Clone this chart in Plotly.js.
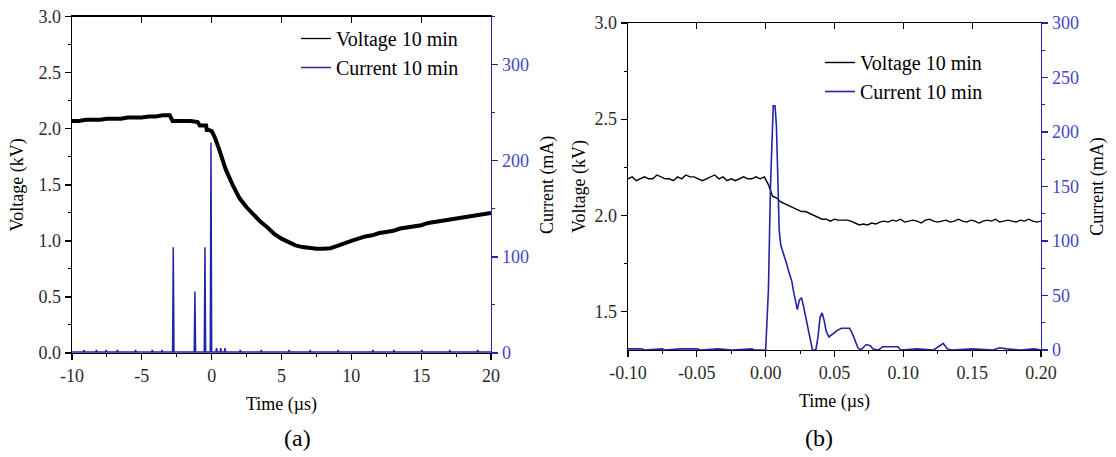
<!DOCTYPE html>
<html><head><meta charset="utf-8">
<script src="https://cdn.plot.ly/plotly-3.0.1.min.js"></script>
<style>html,body{margin:0;padding:0;background:#fff}#chart{width:1116px;height:457px}</style>
</head><body><div id="chart"></div>
<script>
// ---------- Panel (a): 10 min, wide window ----------
const voltA_t = [-10,-9.5,-9,-8.5,-8,-7.5,-7,-6.5,-6,-5.5,-5,-4.5,-4,-3.5,-3.0,-2.8,-2.5,-2,-1.5,-1.0,-0.85,-0.6,-0.4,-0.35,-0.2,0,0.2,0.5,1.0,1.5,2.0,2.5,3.0,3.5,4.0,4.5,5.0,5.5,6.0,6.5,7.0,7.5,8.0,8.5,9,9.5,10,10.5,11,11.5,12,12.5,13,13.5,14,14.5,15,15.5,16,16.5,17,17.5,18,18.5,19,19.5,20];
const voltA_v = [2.07,2.07,2.08,2.08,2.08,2.09,2.09,2.09,2.10,2.10,2.10,2.11,2.11,2.12,2.12,2.07,2.07,2.07,2.07,2.06,2.03,2.03,2.03,1.99,1.99,1.98,1.93,1.83,1.64,1.50,1.38,1.30,1.23,1.17,1.12,1.06,1.02,0.99,0.96,0.945,0.935,0.93,0.93,0.935,0.955,0.98,1.00,1.02,1.04,1.05,1.07,1.08,1.09,1.11,1.12,1.13,1.14,1.16,1.17,1.18,1.19,1.20,1.21,1.22,1.23,1.24,1.25];
const curA_t = [-10,-9.2,-9.15,-9.1,-8.3,-8.25,-8.2,-7.6,-7.55,-7.5,-6.8,-6.75,-6.7,-5.5,-5.45,-5.4,-4.3,-4.25,-4.2,-3.6,-3.55,-3.5,-2.80,-2.75,-2.70,-1.25,-1.20,-1.15,-0.53,-0.48,-0.43,-0.10,-0.05,0.00,0.3,0.35,0.4,0.6,0.65,0.7,0.9,0.95,1.0,1.3,2.0,2.05,2.1,3.5,3.55,3.6,5.5,5.55,5.6,7.0,7.05,7.1,9.0,9.05,9.1,11.5,11.55,11.6,13.0,13.05,13.1,15.0,15.05,15.1,17.0,17.05,17.1,19.0,19.05,19.1,20];
const curA_i = [1,1,3,1,1,3,1,1,3,1,1,3,1,1,3,1,1,3,1,1,3,1,1,110,1,1,64,1,1,110,1,1,219,1,1,5,1,1,5,1,1,5,1,1,1,3,1,1,3,1,1,3,1,1,3,1,1,3,1,1,3,1,1,3,1,1,3,1,1,3,1,1,3,1,1];

// ---------- Panel (b): 10 min, zoom around breakdown ----------
const voltB_t0 = -0.1, voltB_dt = 0.003;
const voltB_v = [2.19,2.20,2.18,2.19,2.20,2.19,2.19,2.21,2.20,2.19,
  2.19,2.18,2.20,2.19,2.21,2.20,2.20,2.19,2.18,2.19,
  2.20,2.21,2.19,2.20,2.18,2.19,2.18,2.19,2.20,2.19,
  2.19,2.20,2.19,2.20,
  2.16,2.10,2.09,2.07,2.06,2.05,2.04,2.03,2.02,2.02,2.01,2.00,1.99,1.98,1.98,1.97,1.98,1.975,1.975,1.975,1.97,1.96,1.95,1.955,1.95,1.96,1.955,1.965,1.97,
  1.965,1.975,1.97,1.98,1.965,1.97,1.975,1.97,1.96,1.975,
  1.98,1.97,1.965,1.97,1.975,1.965,1.97,1.98,1.97,1.965,
  1.975,1.97,1.96,1.97,1.975,1.97,1.98,1.965,1.97,1.975,
  1.97,1.965,1.975,1.97,1.98,1.97,1.965,1.97];
const voltB_t = voltB_v.map((_, k) => voltB_t0 + k * voltB_dt);
const curB_t = [-0.100,-0.090,-0.088,-0.075,-0.073,-0.062,-0.050,-0.047,-0.035,-0.024,-0.010,-0.008,0.000,0.002,0.0035,0.0045,0.0055,0.0068,0.0078,0.0088,0.0098,0.011,0.013,0.015,0.017,0.019,0.0205,0.022,0.023,0.0245,0.026,0.0275,0.029,0.031,0.033,0.034,0.0365,0.038,0.0395,0.041,0.0425,0.044,0.046,0.049,0.052,0.055,0.058,0.061,0.063,0.065,0.067,0.069,0.071,0.073,0.076,0.078,0.082,0.085,0.090,0.096,0.098,0.110,0.122,0.126,0.129,0.132,0.135,0.150,0.165,0.170,0.175,0.185,0.195,0.200];
const curB_i = [1,1,0,1,0,1,1,0,1,0,1,0,0,55,150,195,224,224,206,160,110,96,89,80,71,63,52,42,37,46,48,40,31,20,8,0,0,12,30,34,27,17,12,15,18,20,20,20,15,8,2,0,3,5,4,1,0,3,3,3,0,1,0,3,6,1,0,1,0,2,1,0,1,0];

// ---------- tick labels and legend text ----------
const tickA_vals = [-10, -5, 0, 5, 10, 15, 20];
const tickA_text = ['-10', '-5', '0', '5', '10', '15', '20'];
const tickB_vals = [-0.1, -0.05, 0, 0.05, 0.1, 0.15, 0.2];
const tickB_text = ['-0.10', '-0.05', '0.00', '0.05', '0.10', '0.15', '0.20'];
const legendNames = ['Voltage 10 min', 'Current 10 min'];

const W = 1116, H = 457;
const FONT = 'Liberation Serif, Times New Roman, serif';
const BLUE = '#2424a8';
const BLUE_TXT = '#4646c8';

const traces = [
  // thick noisy band of panel (a) voltage
  {x: voltA_t, y: voltA_v, xaxis: 'x', yaxis: 'y', mode: 'lines', showlegend: false,
   line: {color: '#000', width: 4}},
  // thin line of the same data, used for the legend entry
  {x: voltA_t, y: voltA_v, xaxis: 'x', yaxis: 'y', mode: 'lines', name: legendNames[0], legend: 'legend',
   line: {color: '#000', width: 1.3}},
  {x: curA_t, y: curA_i, xaxis: 'x3', yaxis: 'y2', mode: 'lines', name: legendNames[1], legend: 'legend',
   line: {color: BLUE, width: 1.5}},
  {x: voltB_t, y: voltB_v, xaxis: 'x2', yaxis: 'y3', mode: 'lines', name: legendNames[0], legend: 'legend2',
   line: {color: '#000', width: 1.4}},
  {x: curB_t, y: curB_i, xaxis: 'x4', yaxis: 'y4', mode: 'lines', name: legendNames[1], legend: 'legend2',
   line: {color: BLUE, width: 1.6}}
];

const TICKFONT = {family: FONT, size: 18, color: '#2a2a2a'};
const TITLEFONT = {family: FONT, size: 18, color: '#000'};

function baseAxis(extra) {
  return Object.assign({
    showline: true, linecolor: '#000', linewidth: 1.3, mirror: false,
    zeroline: false, showgrid: false, automargin: false, fixedrange: true,
    ticks: 'outside', ticklen: 6, tickwidth: 1.3, tickcolor: '#000',
    tickfont: TICKFONT
  }, extra);
}
function minorTicks(t0, dt, color, dir) {
  return {tickmode: 'linear', tick0: t0, dtick: dt, ticks: dir || 'outside', ticklen: 3, tickwidth: 1, tickcolor: color || '#000'};
}

const domA = [72 / W, 491 / W];
const domB = [628 / W, 1041 / W];
const ydomA = [1 - 353 / H, 1 - 16.7 / H];
const ydomB = [1 - 350 / H, 1 - 23 / H];

const layout = {
  width: W, height: H,
  margin: {l: 0, r: 0, t: 0, b: 0},
  paper_bgcolor: '#fff', plot_bgcolor: 'rgba(0,0,0,0)',
  font: {family: FONT, color: '#000'},
  showlegend: true,
  xaxis: baseAxis({domain: domA, anchor: 'y', range: [-10, 20], tickmode: 'array', tickvals: tickA_vals, ticktext: tickA_text,
    minor: minorTicks(-10, 2.5),
    title: {text: 'Time (µs)', font: TITLEFONT, standoff: 12}}),
  yaxis: baseAxis({domain: ydomA, anchor: 'x', range: [0, 3], tick0: 0, dtick: 0.5, tickformat: '.1f',
    minor: minorTicks(0, 0.25),
    title: {text: 'Voltage (kV)', font: TITLEFONT, standoff: 10}}),
  yaxis2: baseAxis({overlaying: 'y', side: 'right', anchor: 'x3', range: [0, 350], tick0: 0, dtick: 100,
    linecolor: BLUE, tickcolor: BLUE, tickfont: Object.assign({}, TICKFONT, {color: BLUE_TXT}),
    minor: minorTicks(0, 50, BLUE),
    title: {text: 'Current (mA)', font: TITLEFONT, standoff: 12}}),
  xaxis3: baseAxis({overlaying: 'x', side: 'top', anchor: 'y2', range: [-10, 20], tick0: -10, dtick: 5,
    ticks: 'inside', showticklabels: false}),

  xaxis2: baseAxis({domain: domB, anchor: 'y3', range: [-0.1, 0.2], tickmode: 'array', tickvals: tickB_vals, ticktext: tickB_text,
    minor: minorTicks(0, 0.025),
    title: {text: 'Time (µs)', font: TITLEFONT, standoff: 12}}),
  yaxis3: baseAxis({domain: ydomB, anchor: 'x2', range: [1.3, 3.0], tick0: 0, dtick: 0.5, tickformat: '.1f',
    minor: minorTicks(0, 0.25),
    title: {text: 'Voltage (kV)', font: TITLEFONT, standoff: 4}}),
  yaxis4: baseAxis({overlaying: 'y3', side: 'right', anchor: 'x4', range: [0, 300], tick0: 0, dtick: 50,
    linecolor: BLUE, tickcolor: BLUE, tickfont: Object.assign({}, TICKFONT, {color: BLUE_TXT}),
    minor: minorTicks(0, 25, BLUE),
    title: {text: 'Current (mA)', font: TITLEFONT, standoff: 12}}),
  xaxis4: baseAxis({overlaying: 'x2', side: 'top', anchor: 'y4', range: [-0.1, 0.2], tick0: 0, dtick: 0.05,
    ticks: 'inside', showticklabels: false}),

  legend: {x: 296 / W, y: 1 - 19 / H, xanchor: 'left', yanchor: 'top', bgcolor: 'rgba(0,0,0,0)',
    font: {family: FONT, size: 20, color: '#000'}, tracegroupgap: 0},
  legend2: {x: 820 / W, y: 1 - 43 / H, xanchor: 'left', yanchor: 'top', bgcolor: 'rgba(0,0,0,0)',
    font: {family: FONT, size: 20, color: '#000'}, tracegroupgap: 0},

  annotations: [
    {text: '(a)', xref: 'paper', yref: 'paper', x: (72 + 491) / 2 / W, y: 1 - 438 / H, yanchor: 'middle',
     showarrow: false, font: {family: FONT, size: 24, color: '#000'}},
    {text: '(b)', xref: 'paper', yref: 'paper', x: (628 + 1041) / 2 / W, y: 1 - 438 / H, yanchor: 'middle',
     showarrow: false, font: {family: FONT, size: 24, color: '#000'}}
  ]
};

Plotly.newPlot('chart', traces, layout, {staticPlot: true, displayModeBar: false});
</script></body></html>
